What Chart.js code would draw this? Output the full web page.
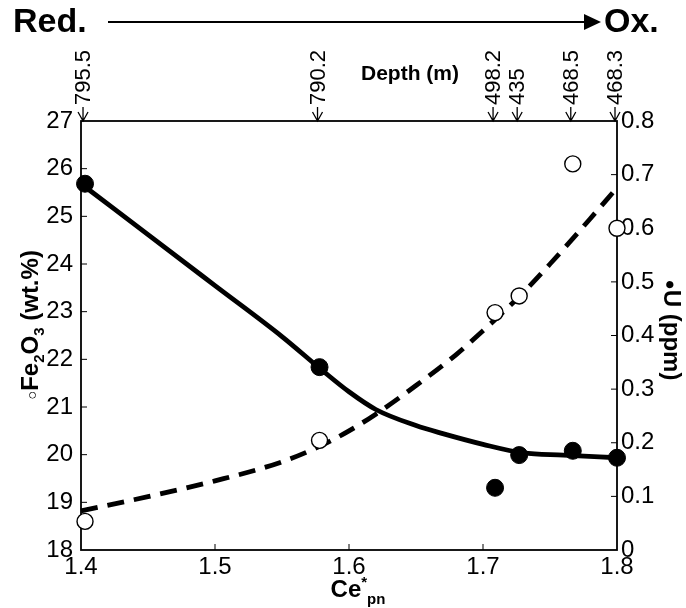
<!DOCTYPE html>
<html><head><meta charset="utf-8">
<script src="https://cdn.jsdelivr.net/npm/chart.js@4"></script>
<style>html,body{margin:0;padding:0;background:#fff}</style>
</head><body>
<canvas id="c" width="686" height="608"></canvas>
<script>
// ---- data ----
const sampleCe = [1.403, 1.578, 1.709, 1.727, 1.767, 1.8];
const fe2o3    = [18.6, 20.3, 22.98, 23.33, 26.1, 24.75];
const uranium  = [0.683, 0.341, 0.116, 0.177, 0.185, 0.172];
const depthLabels = ['795.5', '790.2', '498.2', '435', '468.5', '468.3'];
const feFitCe = [1.40, 1.45, 1.50, 1.55, 1.58, 1.60, 1.62, 1.65, 1.68, 1.70, 1.73, 1.75, 1.78, 1.80];
const feFit   = [18.82, 19.12, 19.45, 19.85, 20.2, 20.5, 20.85, 21.45, 22.1, 22.6, 23.4, 24.0, 24.95, 25.6];
const uFitCe  = [1.40, 1.45, 1.50, 1.55, 1.58, 1.60, 1.62, 1.65, 1.67, 1.70, 1.73, 1.76, 1.80];
const uFit    = [0.683, 0.588, 0.493, 0.398, 0.335, 0.295, 0.262, 0.232, 0.217, 0.197, 0.181, 0.177, 0.172];
const xTickValues = [1.4, 1.5, 1.6, 1.7, 1.8];
const feTickValues = [18, 19, 20, 21, 22, 23, 24, 25, 26, 27];
const uTickValues = [0, 0.1, 0.2, 0.3, 0.4, 0.5, 0.6, 0.7, 0.8];

const pts = (xs, ys) => xs.map((x, i) => ({x, y: ys[i]}));
const FONT = '"Liberation Sans", Arial, Helvetica, sans-serif';

function richText(ctx, segs, cx, cy, angle) {
  ctx.save();
  ctx.translate(cx, cy);
  ctx.rotate(angle);
  let total = 0;
  segs.forEach(s => { ctx.font = s.font; s.w = ctx.measureText(s.t).width; total += s.w; });
  let x = -total / 2;
  ctx.textBaseline = 'alphabetic';
  ctx.textAlign = 'left';
  segs.forEach(s => { ctx.font = s.font; ctx.fillText(s.t, x, s.dy || 0); x += s.w; });
  ctx.restore();
}

const deco = {
  id: 'deco',
  beforeDatasetsDraw(chart) {
    const ctx = chart.ctx, a = chart.chartArea;
    const xs = chart.scales.x, yl = chart.scales.y, yr = chart.scales.y2;
    ctx.save();
    ctx.strokeStyle = '#000';
    ctx.lineWidth = 1.8;
    ctx.strokeRect(a.left, a.top, a.right - a.left, a.bottom - a.top);
    ctx.lineWidth = 1;
    ctx.beginPath();
    feTickValues.slice(1, -1).forEach(v => { const y = yl.getPixelForValue(v); ctx.moveTo(a.left, y); ctx.lineTo(a.left + 6, y); });
    uTickValues.slice(1, -1).forEach(v => { const y = yr.getPixelForValue(v); ctx.moveTo(a.right, y); ctx.lineTo(a.right - 6, y); });
    xTickValues.slice(1, -1).forEach(v => { const x = xs.getPixelForValue(v); ctx.moveTo(x, a.bottom); ctx.lineTo(x, a.bottom - 6); });
    ctx.stroke();
    ctx.restore();
  },
  afterDraw(chart) {
    const ctx = chart.ctx, a = chart.chartArea;
    const xs = chart.scales.x;
    ctx.save();
    ctx.strokeStyle = '#000'; ctx.fillStyle = '#000';

    // Red. -> Ox.
    ctx.font = 'bold 34px ' + FONT;
    ctx.textBaseline = 'middle';
    ctx.textAlign = 'left';
    ctx.fillText('Red.', 13, 23);
    ctx.fillText('Ox.', 604, 23);
    ctx.lineWidth = 1.8;
    ctx.beginPath(); ctx.moveTo(108, 22); ctx.lineTo(588, 22); ctx.stroke();
    ctx.beginPath(); ctx.moveTo(601, 22); ctx.lineTo(584, 14); ctx.lineTo(584, 30); ctx.closePath(); ctx.fill();

    // Depth (m)
    ctx.font = 'bold 21px ' + FONT;
    ctx.textAlign = 'center';
    ctx.fillText('Depth (m)', 410, 74);

    // depth labels + arrows
    ctx.font = '22px ' + FONT;
    ctx.lineWidth = 1.3;
    depthLabels.forEach((lab, i) => {
      const x = xs.getPixelForValue(sampleCe[i]) - 2;
      ctx.save();
      ctx.translate(x, 105);
      ctx.rotate(-Math.PI / 2);
      ctx.textAlign = 'left'; ctx.textBaseline = 'middle';
      ctx.fillText(lab, 0, 1);
      ctx.restore();
      ctx.beginPath();
      ctx.moveTo(x, 107); ctx.lineTo(x, a.top);
      ctx.moveTo(x - 5, a.top - 9); ctx.lineTo(x, a.top); ctx.lineTo(x + 5, a.top - 9);
      ctx.stroke();
    });

    // axis titles
    const b = 'bold 24px ' + FONT, bs = 'bold 15px ' + FONT, rs = '15px ' + FONT;
    richText(ctx, [
      {t: '○', font: rs, dy: -1},
      {t: 'Fe', font: b},
      {t: '2', font: bs, dy: 6},
      {t: 'O', font: b},
      {t: '3', font: bs, dy: 6},
      {t: ' (wt.%)', font: b}
    ], 38, 325, -Math.PI / 2);
    richText(ctx, [
      {t: '●', font: 'bold 17px ' + FONT, dy: -1},
      {t: 'U (ppm)', font: b}
    ], 664, 330, Math.PI / 2);
    richText(ctx, [
      {t: 'Ce', font: b},
      {t: '*', font: bs, dy: -10},
      {t: 'pn', font: bs, dy: 7}
    ], 358, 597, 0);
    ctx.restore();
  }
};

new Chart(document.getElementById('c'), {
  type: 'scatter',
  data: {
    datasets: [
      { data: pts(sampleCe, uranium), yAxisID: 'y2', pointRadius: 8.5, pointBackgroundColor: '#000', pointBorderColor: '#000', pointBorderWidth: 1, showLine: false, clip: false },
      { data: pts(sampleCe, fe2o3), yAxisID: 'y', pointRadius: 8, pointBackgroundColor: '#fff', pointBorderColor: '#000', pointBorderWidth: 1.4, showLine: false, clip: false },
      { data: pts(uFitCe, uFit), yAxisID: 'y2', showLine: true, pointRadius: 0, borderColor: '#000', borderWidth: 4.8, cubicInterpolationMode: 'monotone', clip: false },
      { data: pts(feFitCe, feFit), yAxisID: 'y', showLine: true, pointRadius: 0, borderColor: '#000', borderWidth: 4.8, borderDash: [17, 10], cubicInterpolationMode: 'monotone', clip: false }
    ]
  },
  options: {
    responsive: false,
    animation: false,
    devicePixelRatio: 1,
    layout: { padding: { top: 121, left: 0, right: 0, bottom: 0 } },
    plugins: { legend: { display: false }, tooltip: { enabled: false } },
    scales: {
      x: {
        type: 'linear', min: 1.4, max: 1.8,
        afterBuildTicks: s => { s.ticks = xTickValues.map(v => ({value: v})); },
        afterFit: s => { s.height = 58; },
        grid: { display: false, drawTicks: false }, border: { display: false },
        ticks: { padding: 3, color: '#000', font: { family: FONT, size: 24 }, callback: v => v.toFixed(1) }
      },
      y: {
        position: 'left', min: 18, max: 27,
        afterBuildTicks: s => { s.ticks = feTickValues.map(v => ({value: v})); },
        afterFit: s => { s.width = 81; },
        grid: { display: false, drawTicks: false }, border: { display: false },
        ticks: { padding: 8, color: '#000', font: { family: FONT, size: 24 }, callback: v => String(v) }
      },
      y2: {
        position: 'right', min: 0, max: 0.8,
        afterBuildTicks: s => { s.ticks = uTickValues.map(v => ({value: v})); },
        afterFit: s => { s.width = 69; },
        grid: { display: false, drawTicks: false }, border: { display: false },
        ticks: { padding: 4, color: '#000', font: { family: FONT, size: 24 }, callback: v => v === 0 ? '0' : v.toFixed(1) }
      }
    }
  },
  plugins: [deco]
});
</script>
</body></html>
